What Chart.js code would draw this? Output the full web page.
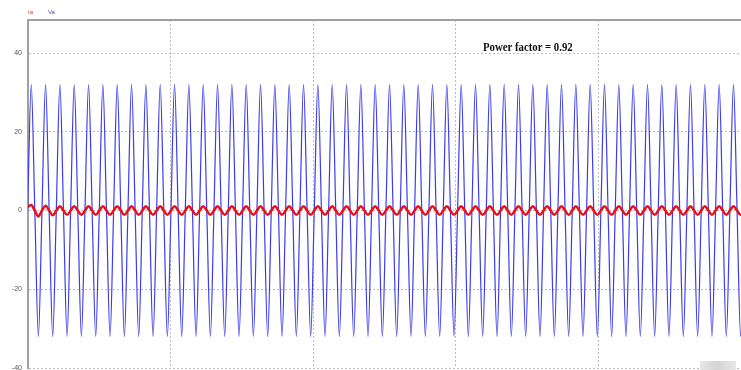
<!DOCTYPE html>
<html>
<head>
<meta charset="utf-8">
<script src="https://cdn.jsdelivr.net/npm/chart.js@4.4.0/dist/chart.umd.min.js"></script>
<style>
  html, body { margin: 0; padding: 0; background: #fff; }
  #wrap { position: relative; width: 741px; height: 370px; overflow: hidden; }
  canvas { position: absolute; left: 0; top: 0; }
  .lbl { position: absolute; white-space: nowrap; }
  #ia { left: 28px; top: 9px; font: 6px "Liberation Sans", Arial, sans-serif; color: #e33; }
  #va { left: 48px; top: 9px; font: 6px "Liberation Sans", Arial, sans-serif; color: #44d; }
  #pf { left: 483px; top: 41px; font: bold 12px/12px "Liberation Serif", "Times New Roman", serif; color: #111; transform: scaleX(0.9); transform-origin: 0 0; }
  #blur { left: 700px; top: 361px; width: 36px; height: 9px; background: linear-gradient(90deg, #e6e6e6, #d4d4d4 50%, #e8e8e8); }
</style>
</head>
<body>
<div id="wrap">
  <canvas id="c" width="741" height="370"></canvas>
  <div class="lbl" id="ia">Ia</div>
  <div class="lbl" id="va">Va</div>
  <div class="lbl" id="pf">Power factor = 0.92</div>
  <div class="lbl" id="blur"></div>
</div>
<script>
// Series labels
const seriesNames = ["Ia", "Va"];
// Annotation
const annotationText = "Power factor = 0.92";
// Y tick labels
const yTicks = [40, 20, 0, -20, -40];
// Sampling: first sample time (ms) and sample spacing (ms), quarter cycle of 50 Hz
const sampleStartMs = -0.5;
const sampleStepMs = 5;

// Va (blue) samples (peaks ~ +32, troughs ~ -32)
const vaValues = [
0,32,0,-32,0,32,0,-32,0,32,0,-32,0,32,0,-32,0,32,0,-32,0,32,0,-32,0,32,0,-32,0,32,0,-32,0,32,0,-32,0,32,0,-32,
0,32,0,-32,0,32,0,-32,0,32,0,-32,0,32,0,-32,0,32,0,-32,0,32,0,-32,0,32,0,-32,0,32,0,-32,0,32,0,-32,0,32,0,-32,
0,32,0,-32,0,32,0,-32,0,32,0,-32,0,32,0,-32,0,32,0,-32,0,32,0,-32,0,32,0,-32,0,32,0,-32,0,32,0,-32,0,32,0,-32,
0,32,0,-32,0,32,0,-32,0,32,0,-32,0,32,0,-32,0,32,0,-32,0,32,0,-32,0,32,0,-32,0,32,0,-32,0,32,0,-32,0,32,0,-32,
0,32,0,-32,0,32,0,-32,0,32,0,-32,0,32,0,-32,0,32,0,-32,0,32,0,-32,0,32,0,-32,0,32,0,-32,0,32,0,-32,0,32,0,-32,
0
];

// Ia (red) samples (small, ~ +/-1.1, slightly larger start)
const iaValues = [
0.9,1.4,0,-1.5,0,1.2,0,-1.2,0,1.1,0,-1.1,0,1.1,0,-1.1,0,1.1,0,-1.1,0,1.1,0,-1.1,0,1.1,0,-1.1,0,1.1,0,-1.1,0,1.1,0,-1.1,0,1.1,0,-1.1,
0,1.1,0,-1.1,0,1.1,0,-1.1,0,1.1,0,-1.1,0,1.1,0,-1.1,0,1.1,0,-1.1,0,1.1,0,-1.1,0,1.1,0,-1.1,0,1.1,0,-1.1,0,1.1,0,-1.1,0,1.1,0,-1.1,
0,1.1,0,-1.1,0,1.1,0,-1.1,0,1.1,0,-1.1,0,1.1,0,-1.1,0,1.1,0,-1.1,0,1.1,0,-1.1,0,1.1,0,-1.1,0,1.1,0,-1.1,0,1.1,0,-1.1,0,1.1,0,-1.1,
0,1.1,0,-1.1,0,1.1,0,-1.1,0,1.1,0,-1.1,0,1.1,0,-1.1,0,1.1,0,-1.1,0,1.1,0,-1.1,0,1.1,0,-1.1,0,1.1,0,-1.1,0,1.1,0,-1.1,0,1.1,0,-1.1,
0,1.1,0,-1.1,0,1.1,0,-1.1,0,1.1,0,-1.1,0,1.1,0,-1.1,0,1.1,0,-1.1,0,1.1,0,-1.1,0,1.1,0,-1.1,0,1.1,0,-1.1,0,1.1,0,-1.1,0,1.1,0,-1.1,
0
];

// sample clock (x positions come from the time scale)
const timesMs = vaValues.map((_, i) => sampleStartMs + i * sampleStepMs);

document.getElementById('ia').textContent = seriesNames[0];
document.getElementById('va').textContent = seriesNames[1];
document.getElementById('pf').textContent = annotationText;

const topBorder = {
  id: 'topBorder',
  afterDraw(chart) {
    const {ctx, chartArea} = chart;
    ctx.save();
    ctx.strokeStyle = '#a0a0a0';
    ctx.lineWidth = 2;
    ctx.beginPath();
    ctx.moveTo(chartArea.left - 1, chartArea.top);
    ctx.lineTo(chartArea.right, chartArea.top);
    ctx.stroke();
    ctx.restore();
  }
};

new Chart(document.getElementById('c'), {
  type: 'line',
  data: {
    labels: timesMs,
    datasets: [
      {
        label: seriesNames[0],
        data: iaValues,
        borderColor: '#e8101a',
        borderWidth: 2.5,
        pointRadius: 0,
        cubicInterpolationMode: 'monotone',
        fill: false
      },
      {
        label: seriesNames[1],
        data: vaValues,
        borderColor: 'rgb(60,60,235)',
        borderWidth: 1.2,
        pointRadius: 0,
        cubicInterpolationMode: 'monotone',
        fill: false
      }
    ]
  },
  options: {
    responsive: false,
    animation: false,
    events: [],
    layout: { padding: { top: 20, left: 0, right: 0, bottom: 2 } },
    plugins: { legend: { display: false }, tooltip: { enabled: false } },
    scales: {
      x: {
        type: 'linear',
        min: 0,
        max: 995,
        afterFit(scale) { scale.height = 0; scale.paddingLeft = 0; scale.paddingRight = 0; },
        ticks: { display: false, stepSize: 200, includeBounds: false },
        grid: { color: '#bdbdbd', lineWidth: 1, drawTicks: false },
        border: { display: false, dash: [2, 2] }
      },
      y: {
        min: -40,
        max: 48.4,
        afterFit(scale) { scale.width = 28; scale.paddingTop = 0; scale.paddingBottom = 0; },
        afterBuildTicks(scale) { scale.ticks = yTicks.map(v => ({ value: v })); },
        ticks: {
          padding: 6,
          color: '#555',
          font: { size: 7, family: 'Liberation Sans' },
          includeBounds: false
        },
        grid: { color: '#bdbdbd', lineWidth: 1, drawTicks: false },
        border: { display: true, color: '#a0a0a0', width: 2, dash: [2, 2] }
      }
    }
  },
  plugins: [topBorder]
});
</script>
</body>
</html>
